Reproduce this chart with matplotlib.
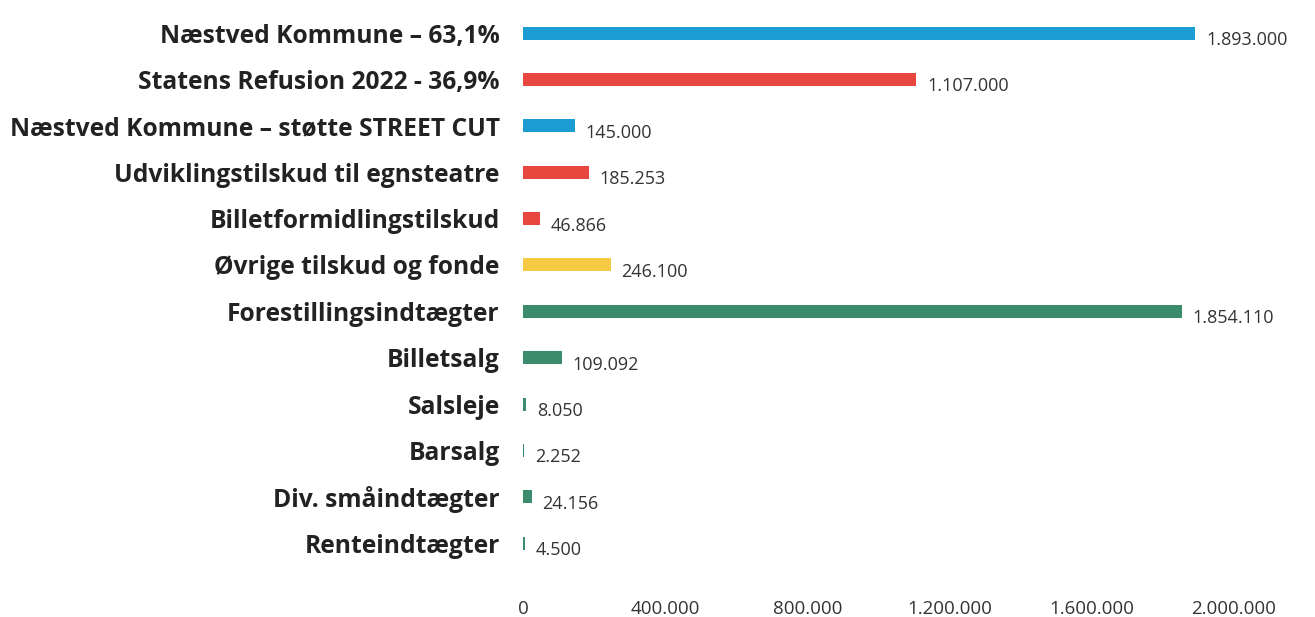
import matplotlib
matplotlib.use("Agg")
import matplotlib.pyplot as plt

categories = [
    "Næstved Kommune – 63,1%",
    "Statens Refusion 2022 - 36,9%",
    "Næstved Kommune – støtte STREET CUT",
    "Udviklingstilskud til egnsteatre",
    "Billetformidlingstilskud",
    "Øvrige tilskud og fonde",
    "Forestillingsindtægter",
    "Billetsalg",
    "Salsleje",
    "Barsalg",
    "Div. småindtægter",
    "Renteindtægter",
]
values = [1893000, 1107000, 145000, 185253, 46866, 246100, 1854110, 109092, 8050, 2252, 24156, 4500]
colors = ["#1b9dd3", "#e8473f", "#1b9dd3", "#e8473f", "#e8473f", "#f6c945",
          "#3b8c6c", "#3b8c6c", "#3b8c6c", "#3b8c6c", "#3b8c6c", "#3b8c6c"]
xticks = [0, 400000, 800000, 1200000, 1600000, 2000000]

def fmt(v):
    return f"{v:,}".replace(",", ".")

plt.rcParams['font.family'] = ['Open Sans', 'DejaVu Sans']

fig = plt.figure(figsize=(13.15, 6.17), dpi=100)
ax = fig.add_axes([0.398, 0.082, 0.54, 0.902])

y = list(range(len(categories)))
ax.barh(y, values, height=0.28, color=colors)
ax.set_ylim(len(categories) - 0.5, -0.5)
ax.set_xlim(0, 2000000)
ax.set_yticks(y)
ax.set_yticklabels(categories, fontsize=17.7, fontweight='bold', color='#222222')
ax.set_xticks(xticks)
ax.set_xticklabels([fmt(t) for t in xticks], fontsize=13.5, color='#333333')
ax.tick_params(axis='y', length=0, pad=17)
ax.tick_params(axis='x', length=0, pad=24)
for s in ax.spines.values():
    s.set_visible(False)

for yi, v in zip(y, values):
    ax.text(v + 30000, yi + 0.15, fmt(v), va='center', ha='left', fontsize=13, color='#333333')

fig.savefig("out.png", dpi=100)
